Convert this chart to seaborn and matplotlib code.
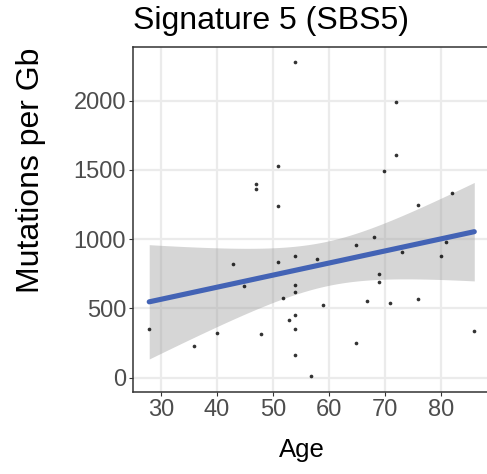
import matplotlib
matplotlib.use("Agg")
import matplotlib.pyplot as plt
import seaborn as sns
import numpy as np
import pandas as pd
from scipy import stats

# Donor age and SBS5 mutation burden
age = [53.9, 50.9, 46.9, 46.9, 50.9,
       72.0, 72.0, 69.9, 82.0, 75.9,
       53.9, 42.9, 50.9, 44.9, 53.9, 53.9, 51.8, 27.9, 53.9, 52.9,
       53.9, 40.0, 47.9, 35.9, 53.9,
       68.0, 64.9, 57.9, 73.0, 80.0, 81.0, 68.9, 68.9, 58.9, 66.9,
       70.9, 76.0, 86.0, 64.9, 56.9]
mutations = [2276, 1525, 1398, 1359, 1239,
             1987, 1609, 1494, 1330, 1248,
             878, 820, 832, 659, 669, 616, 577, 349, 452, 418,
             351, 325, 317, 231, 166,
             1013, 957, 854, 907, 876, 981, 746, 688, 527, 556,
             537, 570, 337, 248, 12]

x_ticks = [30, 40, 50, 60, 70, 80]
y_ticks = [0, 500, 1000, 1500, 2000]

df = pd.DataFrame({"Age": age, "Mutations": mutations})

sns.set_theme(style="white")
plt.rcParams["font.family"] = ["Liberation Sans", "DejaVu Sans"]

W, H = 487, 474
fig = plt.figure(figsize=(W / 100, H / 100), dpi=100)
ax = fig.add_axes([133 / W, (H - 391.7) / H, (490.5 - 133) / W, (391.7 - 46.6) / H])

# 95% confidence band of the linear fit (t-based)
x = np.asarray(age, float)
y = np.asarray(mutations, float)
n = len(x)
slope, intercept = np.polyfit(x, y, 1)
resid = y - (slope * x + intercept)
s_err = np.sqrt(np.sum(resid ** 2) / (n - 2))
xs = np.linspace(x.min(), x.max(), 200)
tq = stats.t.ppf(0.975, n - 2)
half = tq * s_err * np.sqrt(1 / n + (xs - x.mean()) ** 2 / np.sum((x - x.mean()) ** 2))
fit = slope * xs + intercept
ax.fill_between(xs, fit - half, fit + half, color="#999999", alpha=0.4,
                linewidth=0, zorder=2)

sns.regplot(data=df, x="Age", y="Mutations", ax=ax, ci=None,
            scatter_kws=dict(s=7, color="black", linewidths=0, zorder=3),
            line_kws=dict(color="#4363B5", lw=3.7, zorder=4))

ax.set_xlim(25.0, 88.9)
ax.set_ylim(-101, 2389)
ax.set_xticks(x_ticks)
ax.set_yticks(y_ticks)
ax.grid(True, color="#EBEBEB", lw=1.6, zorder=0)
ax.set_axisbelow(True)
for name, s in ax.spines.items():
    s.set_color("#333333")
    s.set_linewidth(1.1)
ax.spines["right"].set_visible(False)

ax.tick_params(axis="both", which="major", length=3, width=0.8,
               color="#333333", labelsize=17, labelcolor="#4D4D4D", pad=2,
               direction="out", bottom=True, left=True)

ax.set_xlabel("")
ax.set_ylabel("")
fig.text(302 / W, 1 - 457.3 / H, "Age", fontsize=18.5, color="black",
         ha="center", va="baseline")
fig.text(31 / W, 1 - 170 / H, "Mutations per Gb", fontsize=23, color="black",
         ha="center", va="center", rotation=90)
fig.text(133 / W, 1 - 29 / H, "Signature 5 (SBS5)", fontsize=23, color="black",
         ha="left", va="baseline")

fig.savefig("out.png", dpi=100)
